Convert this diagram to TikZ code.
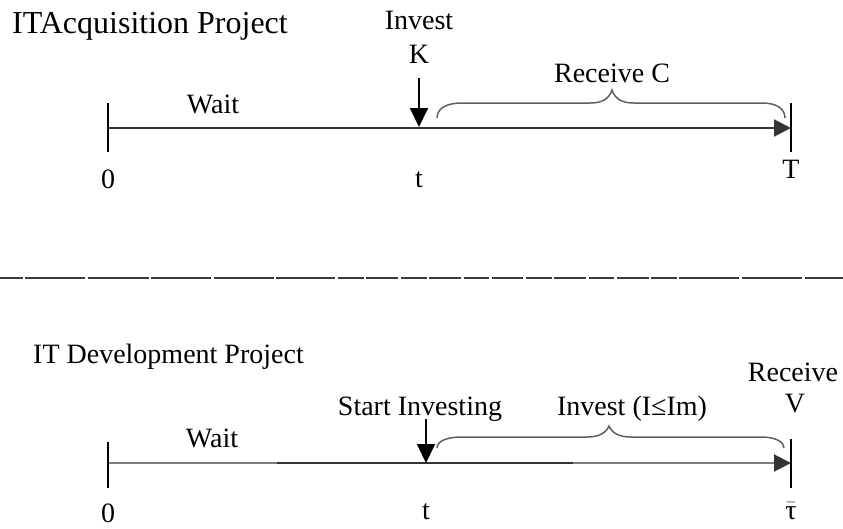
\documentclass[tikz,border=0pt]{standalone}
\usepackage{fontspec}
\setmainfont{Liberation Serif}
\usetikzlibrary{arrows.meta}
\definecolor{axisdark}{RGB}{52,52,52}
\definecolor{axisgray}{RGB}{125,125,125}
\definecolor{bracegray}{RGB}{95,95,95}
\definecolor{rulegray}{RGB}{60,60,60}
\begin{document}
\begin{tikzpicture}[x=1pt,y=-1pt,
  lbl/.style={font=\fontsize{28}{30}\selectfont, inner sep=0pt, anchor=base},
  ttl/.style={font=\fontsize{28}{32}\selectfont, inner sep=0pt, anchor=base west},
  axisline/.style={line width=2pt, draw=axisdark},
  axishead/.style={-{Triangle[length=17pt,width=17pt,color=axisdark]}},
  tickmark/.style={line width=2pt, draw=black},
  pointer/.style={line width=1.8pt, draw=black, -{Triangle[length=19pt,width=18pt]}},
  bracepath/.style={line width=1.5pt, draw=bracegray},
]
\useasboundingbox (0,0) rectangle (843,528);

% ---------------- IT acquisition project ----------------
\node[ttl, font=\fontsize{32}{34}\selectfont] (titleA) at (12,33) {ITAcquisition Project};
\node[lbl] (investA) at (419,29) {Invest};
\node[lbl] (kA) at (419,63) {K};
\node[lbl] (waitA) at (213,113) {Wait};
\node[lbl] (recvC) at (612,82) {Receive C};
\node[lbl] (zeroA) at (108,188) {0};
\node[lbl] (tA) at (419,187) {t};
\node[lbl] (endA) at (791,178) {T};

\coordinate (a0) at (108,128);
\coordinate (aT) at (791,128);
\coordinate (a0up) at (108,103);
\coordinate (a0dn) at (108,152);
\coordinate (aTup) at (791,103);
\coordinate (aTdn) at (791,152);
\coordinate (kfrom) at (419,78);
\coordinate (kto) at (419,127);

\draw[axisline,axishead] (a0) -- (aT);
\draw[tickmark] (a0up) -- (a0dn);
\draw[tickmark] (aTup) -- (aTdn);
\draw[pointer] (kfrom) -- (kto);

% brace over the receiving period
\draw[bracepath] (437,118) .. controls (437,108) and (447,103) .. (462,103)
  -- (590,103) .. controls (602,103) and (609,99) .. (612,90)
  .. controls (615,99) and (622,103) .. (634,103)
  -- (762,103) .. controls (777,103) and (785,109) .. (785,118);

% ---------------- separator ----------------
\foreach \a/\b in {0/23, 25/85, 88/149, 151/211, 214/274, 276/335, 338/364,
  366/398, 401/427, 429/461, 464/489, 492/523, 526/552, 554/586, 589/614,
  617/649, 651/677, 679/739, 742/802, 805/843}
  \draw[line width=2pt, draw=rulegray] (\a,278) -- (\b,278);

% ---------------- IT development project ----------------
\node[ttl] (titleB) at (33,363) {IT Development Project};
\node[lbl] (waitB) at (212,447) {Wait};
\node[lbl] (zeroB) at (108,522) {0};
\node[lbl] (startB) at (420,415) {Start Investing};
\node[lbl] (investB) at (632,415) {Invest (I≤Im)};
\node[lbl] (recvB) at (793,381) {Receive};
\node[lbl] (vB) at (795,412) {V};
\node[lbl] (tB) at (426,519) {t};
\node[lbl] (tauB) at (791,519) {$\bar{\mbox{τ}}$};

\coordinate (b0) at (108,463);
\coordinate (b1) at (277,463);
\coordinate (b2) at (573,463);
\coordinate (bT) at (791,463);
\coordinate (b0up) at (108,442);
\coordinate (b0dn) at (108,488);
\coordinate (bTup) at (791,439);
\coordinate (bTdn) at (791,488);
\coordinate (sfrom) at (426,419);
\coordinate (sto) at (426,463);

\draw[line width=2pt, draw=axisgray] (b0) -- (b1);
\draw[axisline] (b1) -- (b2);
\draw[line width=2pt, draw=axisgray, axishead] (b2) -- (bT);
\draw[tickmark] (b0up) -- (b0dn);
\draw[tickmark] (bTup) -- (bTdn);
\draw[pointer] (sfrom) -- (sto);

% brace over the investment period
\draw[bracepath] (437,448) .. controls (437,441) and (447,437) .. (462,437)
  -- (587,437) .. controls (599,437) and (606,433) .. (609,426)
  .. controls (612,433) and (619,437) .. (631,437)
  -- (761,437) .. controls (776,437) and (784,442) .. (784,448);
\end{tikzpicture}
\end{document}
